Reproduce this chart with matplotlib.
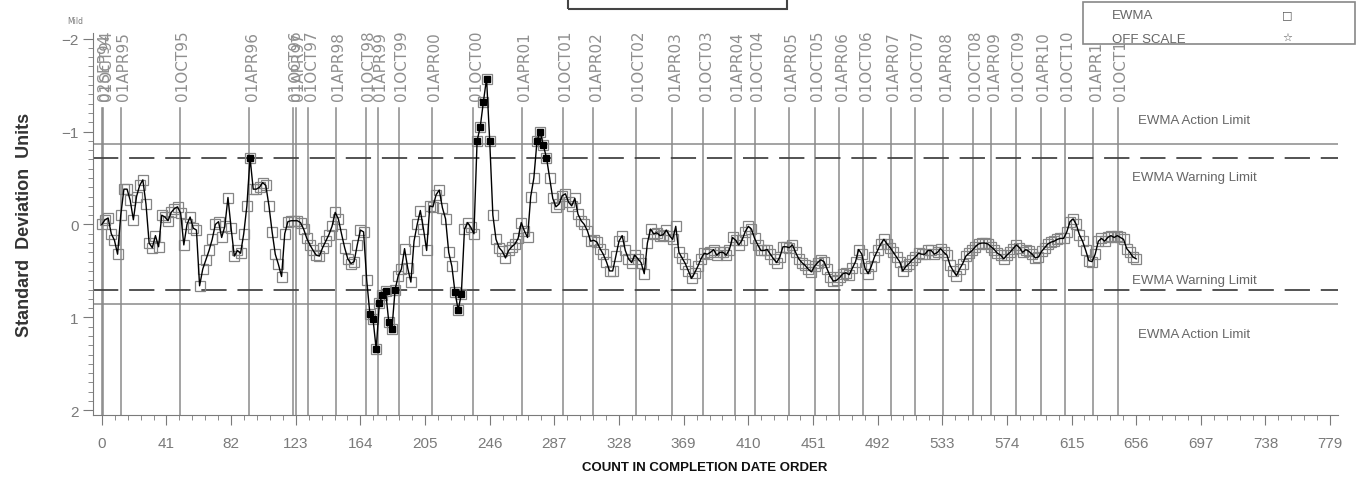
import numpy as np
import matplotlib
matplotlib.use('Agg')
import matplotlib.pyplot as plt
from matplotlib.patches import Rectangle
from matplotlib import font_manager

# EWMA values (std dev units), every 2nd count in completion date order
ewma = [0.0, -0.05, -0.07, 0.10, 0.17, 0.32, -0.10, -0.38, -0.38, -0.26,
        -0.05, -0.30, -0.42, -0.48, -0.22, 0.20, 0.25, 0.12, 0.24, -0.10,
        -0.08, -0.04, -0.13, -0.17, -0.19, -0.12, 0.22, 0.0, -0.08, 0.04,
        0.06, 0.66, 0.48, 0.38, 0.28, 0.16, 0.0, -0.03, 0.14, 0.02,
        -0.29, 0.04, 0.34, 0.28, 0.31, 0.10, -0.20, -0.72, -0.38, -0.38,
        -0.40, -0.45, -0.42, -0.20, 0.08, 0.32, 0.43, 0.56, 0.10, -0.03,
        -0.04, -0.04, -0.04, -0.02, 0.05, 0.15, 0.22, 0.28, 0.33, 0.34,
        0.25, 0.18, 0.11, 0.02, -0.13, -0.06, 0.10, 0.25, 0.37, 0.42,
        0.40, 0.22, 0.06, 0.08, 0.60, 0.96, 1.02, 1.34, 0.85, 0.76,
        0.72, 1.05, 1.12, 0.70, 0.55, 0.48, 0.26, 0.47, 0.62, 0.18,
        0.0, -0.15, 0.05, 0.28, -0.20, -0.19, -0.32, -0.37, -0.18, -0.06,
        0.30, 0.45, 0.73, 0.92, 0.75, 0.05, -0.02, 0.03, 0.10, -0.90,
        -1.05, -1.32, -1.57, -0.90, -0.10, 0.16, 0.25, 0.29, 0.36, 0.28,
        0.24, 0.21, 0.15, -0.02, 0.07, 0.14, -0.30, -0.50, -0.90, -1.00,
        -0.85, -0.72, -0.50, -0.28, -0.19, -0.22, -0.31, -0.33, -0.24, -0.20,
        -0.28, -0.11, -0.04, 0.0, 0.07, 0.18, 0.17, 0.19, 0.26, 0.32,
        0.40, 0.50, 0.50, 0.34, 0.18, 0.12, 0.28, 0.37, 0.41, 0.33,
        0.37, 0.41, 0.53, 0.20, 0.05, 0.10, 0.09, 0.12, 0.11, 0.06,
        0.12, 0.16, 0.02, 0.30, 0.36, 0.42, 0.50, 0.58, 0.52, 0.45,
        0.37, 0.31, 0.32, 0.30, 0.27, 0.33, 0.30, 0.30, 0.33, 0.27,
        0.14, 0.17, 0.22, 0.17, 0.08, 0.02, 0.05, 0.15, 0.22, 0.28,
        0.28, 0.27, 0.32, 0.37, 0.41, 0.35, 0.24, 0.24, 0.25, 0.22,
        0.30, 0.37, 0.41, 0.44, 0.48, 0.51, 0.45, 0.41, 0.38, 0.40,
        0.48, 0.56, 0.61, 0.60, 0.57, 0.53, 0.52, 0.54, 0.47, 0.40,
        0.27, 0.32, 0.47, 0.53, 0.45, 0.35, 0.28, 0.21, 0.16, 0.21,
        0.25, 0.30, 0.35, 0.40, 0.50, 0.45, 0.42, 0.38, 0.35, 0.31,
        0.32, 0.32, 0.28, 0.28, 0.32, 0.30, 0.26, 0.30, 0.33, 0.44,
        0.50, 0.55, 0.48, 0.42, 0.34, 0.31, 0.28, 0.24, 0.21, 0.20,
        0.20, 0.21, 0.24, 0.27, 0.31, 0.33, 0.37, 0.33, 0.30, 0.26,
        0.22, 0.25, 0.30, 0.27, 0.29, 0.32, 0.36, 0.35, 0.29, 0.25,
        0.21, 0.19, 0.18, 0.16, 0.15, 0.15, 0.08, -0.03, -0.06, 0.0,
        0.11, 0.18, 0.28, 0.39, 0.40, 0.32, 0.18, 0.15, 0.18, 0.14,
        0.12, 0.14, 0.12, 0.14, 0.16, 0.26, 0.30, 0.35, 0.37]
count = np.arange(0, 2 * len(ewma), 2)

# date reference lines (count position, label)
date_pos = [0, 1, 12, 49.6, 93.6, 121, 123.2, 131, 148.5, 167.4, 175, 188.3,
            209.4, 235.6, 266.5, 292.3, 311.7, 338.8, 361.8, 381.5, 401.4,
            414.1, 435.8, 452.1, 467.7, 483, 500.3, 515.6, 533.7, 552.4,
            564.2, 579.6, 595.5, 610.7, 628.8, 644.5]
date_lab = ['02SEP94', '01OCT94', '01APR95', '01OCT95', '01APR96', '01OCT96',
            '01APR97', '01OCT97', '01APR98', '01OCT98', '01APR99', '01OCT99',
            '01APR00', '01OCT00', '01APR01', '01OCT01', '01APR02', '01OCT02',
            '01APR03', '01OCT03', '01APR04', '01OCT04', '01APR05', '01OCT05',
            '01APR06', '01OCT06', '01APR07', '01OCT07', '01APR08', '01OCT08',
            '01APR09', '01OCT09', '01APR10', '01OCT10', '01APR11', '01OCT11']

action_lim = [-0.87, 0.86]
warn_lim = [-0.72, 0.70]
xticks = [0, 41, 82, 123, 164, 205, 246, 287, 328, 369, 410, 451, 492, 533,
          574, 615, 656, 697, 738, 779]

names = {f.name for f in font_manager.fontManager.ttflist}
narrow = 'Liberation Sans Narrow' if 'Liberation Sans Narrow' in names else 'Liberation Sans'

W, H = 1359, 485
fig = plt.figure(figsize=(W / 100, H / 100), dpi=100)
ax = fig.add_axes([93 / W, 1 - 416 / H, (1338 - 93) / W, (416 - 34) / H])
ax.set_xlim(-5.6, 784)
ax.set_ylim(2.05, -2.06)

gray = '#7a7a7a'
# date lines
for p, lab in zip(date_pos, date_lab):
    ax.plot([p, p], [-1.25, 2.05], color='#8a8a8a', lw=1.1, zorder=1)
    ax.text(p + 1.8, -1.34, lab, rotation=90, ha='center', va='bottom',
            fontsize=11, color='#8f8f8f')

# limits
for v in action_lim:
    ax.axhline(v, color='#8a8a8a', lw=1.1, zorder=1)
for v in warn_lim:
    ax.axhline(v, color='#444444', lw=1.3, dashes=(14, 6), zorder=1)

ewma = np.array(ewma)
ax.plot(count, ewma, color='black', lw=1.0, zorder=3)
ax.plot(count, ewma, 's', ms=7, mfc='none', mec='#858585', mew=0.9, zorder=2)
out = (ewma > 0.68) | (ewma < -0.7)
ax.plot(count[out], ewma[out], 's', ms=4, color='black', zorder=4)

# right hand labels
rt = dict(ha='center', va='center', fontsize=9.5, color='#666666',
          family=narrow)
ax.text(693, -1.12, 'EWMA Action Limit', **rt)
ax.text(693, -0.51, 'EWMA Warning Limit', **rt)
ax.text(693, 0.60, 'EWMA Warning Limit', **rt)
ax.text(693, 1.18, 'EWMA Action Limit', **rt)

# axes styling
for s in ['top', 'right']:
    ax.spines[s].set_visible(False)
for s in ['left', 'bottom']:
    ax.spines[s].set_color(gray)
ax.set_xticks(xticks)
ax.set_xticks(np.arange(0, 780, 8.2), minor=True)
ax.set_yticks([-2, -1, 0, 1, 2])
ax.set_yticklabels(['\u22122', '\u22121', '0', '1', '2'])
ax.set_yticks(np.arange(-2, 2.01, 0.1), minor=True)
ax.tick_params(axis='both', which='major', colors=gray, labelsize=11,
               length=7)
ax.tick_params(axis='both', which='minor', colors=gray, length=3.5)
ax.tick_params(axis='x', pad=8)
for t in ax.get_xticklabels() + ax.get_yticklabels():
    t.set_family(narrow)

fig.text(25 / W, 1 - 225 / H, 'Standard  Deviation  Units', rotation=90,
         ha='center', va='center', fontsize=13, fontweight='bold',
         color='#333333', family='Liberation Sans')
fig.text(705 / W, 1 - 468 / H, 'COUNT IN COMPLETION DATE ORDER', ha='center',
         va='center', fontsize=9.5, fontweight='bold', color='#111111',
         family=narrow)
fig.text(75 / W, 1 - 22 / H, 'Mild', fontsize=5.5, color=gray, ha='center',
         va='center')

# top title box (cut off)
fig.patches.append(Rectangle((568 / W, 1 - 10 / H), 219 / W, 14 / H,
                             transform=fig.transFigure, fill=False,
                             ec='#444444', lw=1.5))
# legend box
fig.patches.append(Rectangle((1083 / W, 1 - 45 / H), 272 / W, 42 / H,
                             transform=fig.transFigure, fc='white',
                             ec='#888888', lw=1.2, zorder=10))
lt = dict(fontsize=9.5, color='#666666', va='center', ha='left',
          family=narrow, zorder=11)
fig.text(1112 / W, 1 - 16 / H, 'EWMA', **lt)
fig.text(1112 / W, 1 - 40 / H, 'OFF SCALE', **lt)
fig.text(1287 / W, 1 - 15 / H, '\u25a1', fontsize=8, color='#555555',
         ha='center', va='center', zorder=11)
fig.text(1287 / W, 1 - 38 / H, '\u2606', fontsize=8, color='#555555',
         ha='center', va='center', zorder=11)

fig.savefig('out.png', dpi=100)
